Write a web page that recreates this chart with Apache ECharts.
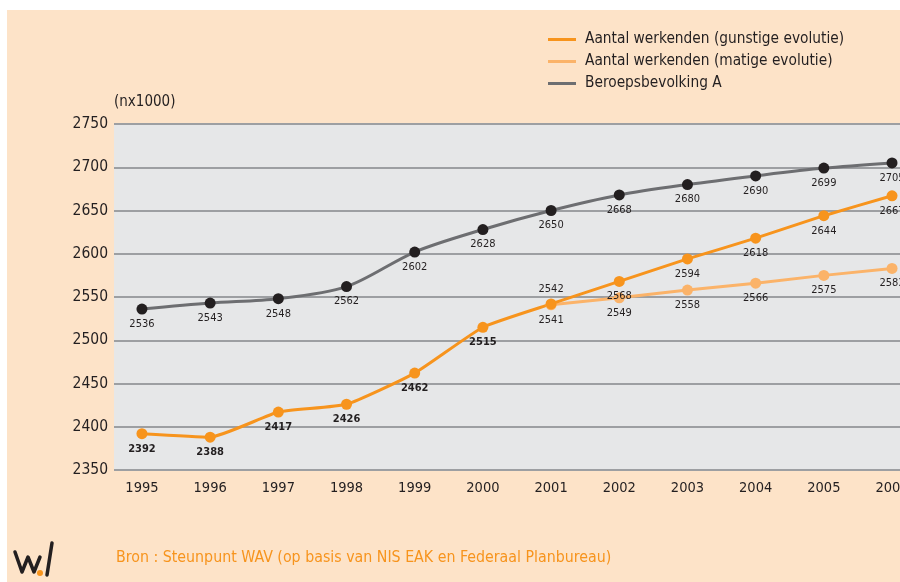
<!DOCTYPE html>
<html>
<head>
<meta charset="utf-8">
<script src="https://cdn.jsdelivr.net/npm/echarts@6/dist/echarts.min.js"></script>
<style>
  html, body { margin: 0; padding: 0; background: #ffffff; }
  #chart { position: absolute; left: 7px; top: 10px; width: 893px; height: 572px; }
</style>
</head>
<body>
<div id="chart"></div>
<script>
// jaren en reeksen (x1000)
const years = [1995, 1996, 1997, 1998, 1999, 2000, 2001, 2002, 2003, 2004, 2005, 2006]
const gunstig = [2392, 2388, 2417, 2426, 2462, 2515, 2542, 2568, 2594, 2618, 2644, 2667]
const matigYears = [2001, 2002, 2003, 2004, 2005, 2006]
const matig = [2541, 2549, 2558, 2566, 2575, 2583]
const beroeps = [2536, 2543, 2548, 2562, 2602, 2628, 2650, 2668, 2680, 2690, 2699, 2705]

const names = [
    'Aantal werkenden (gunstige evolutie)',
    'Aantal werkenden (matige evolutie)',
    'Beroepsbevolking A'
]

const FONT = 'Liberation Sans Narrow, DejaVu Sans Condensed, sans-serif'
const ORANGE = '#f7941d'
const LIGHT = '#fbb369'
const GREY = '#6d6e71'
const INK = '#231f20'

const chart = echarts.init(document.getElementById('chart'))

const pairs = (xs, ys) => xs.map((x, i) => [x, ys[i]])

const option = {
    backgroundColor: '#fde3c8',
    animation: false,
    textStyle: { fontFamily: FONT, color: INK },
    legend: {
        orient: 'vertical',
        left: 536,
        top: 17,
        itemWidth: 28,
        itemHeight: 3,
        itemGap: 7,
        icon: 'rect',
        textStyle: { fontFamily: FONT, fontSize: 15.3, color: INK, padding: [0, 0, 0, 4] },
        data: [
            { name: names[0], itemStyle: { color: ORANGE } },
            { name: names[1], itemStyle: { color: LIGHT } },
            { name: names[2], itemStyle: { color: GREY } }
        ]
    },
    grid: {
        left: 107,
        right: 0,
        top: 114,
        bottom: 112,
        outerBoundsMode: 'none',
        show: true,
        backgroundColor: '#e6e7e8',
        borderWidth: 0
    },
    xAxis: {
        type: 'value',
        min: 1994.59,
        max: 2006.117,
        axisLine: { show: false },
        axisTick: { show: false },
        splitLine: { show: false },
        axisLabel: {
            customValues: years,
            fontFamily: FONT,
            fontSize: 14.5,
            color: INK,
            margin: 11,
            formatter: v => String(v)
        }
    },
    yAxis: {
        type: 'value',
        min: 2350,
        max: 2750,
        interval: 50,
        name: '(nx1000)',
        nameLocation: 'end',
        nameGap: 14,
        nameTextStyle: { fontFamily: FONT, fontSize: 15, color: INK, align: 'left', padding: [0, 0, 0, 0] },
        axisLine: { show: false },
        axisTick: { show: false },
        axisLabel: { fontFamily: FONT, fontSize: 15.5, color: INK, margin: 6, formatter: v => String(v) },
        splitLine: { lineStyle: { color: '#9d9fa2', width: 2 } }
    },
    series: [
        {
            name: names[1],
            type: 'line',
            data: pairs(matigYears, matig),
            symbol: 'circle',
            symbolSize: 11,
            itemStyle: { color: LIGHT },
            lineStyle: { color: LIGHT, width: 3 },
            label: { show: true, position: 'bottom', distance: 4, fontFamily: FONT, fontSize: 11, color: INK,
                formatter: p => p.value[1] }
        },
        {
            name: names[0],
            type: 'line',
            smooth: 0.15,
            data: pairs(years, gunstig).map((d, i) => ({
                value: d,
                label: years[i] === 2001 ? { position: 'top' } : undefined
            })),
            symbol: 'circle',
            symbolSize: 11,
            itemStyle: { color: ORANGE },
            lineStyle: { color: ORANGE, width: 3 },
            label: { show: true, position: 'bottom', distance: 4, fontFamily: FONT, fontSize: 11, color: INK,
                formatter: p => p.dataIndex <= 5 ? '{b|' + p.value[1] + '}' : String(p.value[1]),
                rich: { b: { fontFamily: FONT, fontSize: 11, fontWeight: 'bold', color: INK } } }
        },
        {
            name: names[2],
            type: 'line',
            smooth: 0.3,
            data: pairs(years, beroeps),
            symbol: 'circle',
            symbolSize: 11,
            itemStyle: { color: INK },
            lineStyle: { color: GREY, width: 3 },
            label: { show: true, position: 'bottom', distance: 4, fontFamily: FONT, fontSize: 11, color: INK,
                formatter: p => p.value[1] }
        }
    ],
    graphic: [
        {
            type: 'text',
            left: 109,
            top: 540,
            style: {
                text: 'Bron : Steunpunt WAV (op basis van NIS EAK en Federaal Planbureau)',
                font: '15.8px ' + FONT,
                fill: ORANGE
            }
        },
        // logo
        {
            type: 'polyline',
            shape: { points: [[8, 542], [15, 562], [21, 547], [27, 562], [33, 547]] },
            style: { stroke: INK, lineWidth: 3.5, fill: null, lineJoin: 'round', lineCap: 'round' }
        },
        {
            type: 'line',
            shape: { x1: 40, y1: 565, x2: 45, y2: 533 },
            style: { stroke: INK, lineWidth: 3.5, lineCap: 'round' }
        },
        {
            type: 'circle',
            shape: { cx: 33, cy: 563, r: 3 },
            style: { fill: ORANGE }
        }
    ]
}

chart.setOption(option)
</script>
</body>
</html>
